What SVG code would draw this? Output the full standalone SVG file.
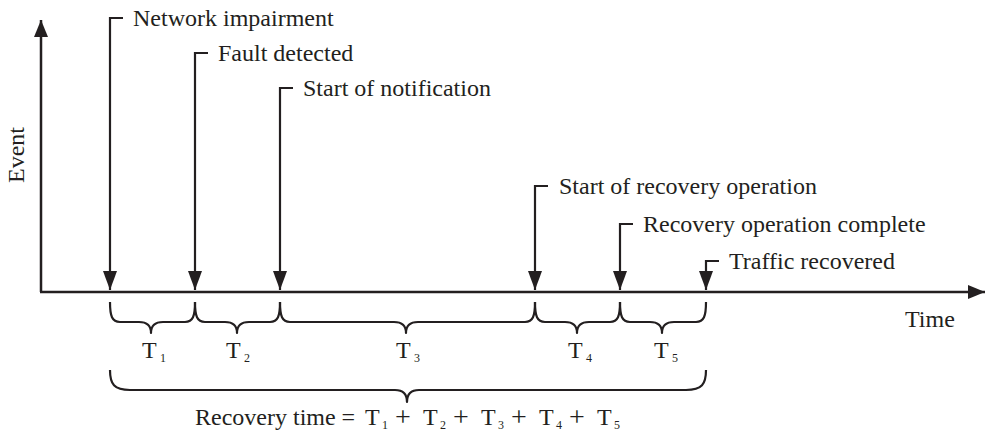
<svg xmlns="http://www.w3.org/2000/svg" width="985" height="436" viewBox="0 0 985 436">
  <style>
    .ln { stroke: #231f20; stroke-width: 2.2; fill: none; }
    .ax { stroke: #231f20; stroke-width: 2.5; fill: none; }
    .br { stroke: #231f20; stroke-width: 2.2; fill: none; stroke-linejoin: round; }
    text { font-family: "Liberation Serif", "Times New Roman", serif; font-size: 24px; fill: #231f20; }
    .sub { font-size: 12px; }
    .plus { font-size: 28px; }
  </style>
  <defs>
    <marker id="arr" markerUnits="userSpaceOnUse" markerWidth="20" markerHeight="14" refX="19" refY="7" orient="auto">
      <path d="M0,0 L19,7 L0,14 Z" fill="#231f20"/>
    </marker>
    <marker id="axarr" markerUnits="userSpaceOnUse" markerWidth="18" markerHeight="14" refX="17" refY="7" orient="auto">
      <path d="M0,0 L17,7 L0,14 Z" fill="#231f20"/>
    </marker>
  </defs>

  <!-- axes -->
  <g id="axes">
    <line class="ax" x1="41" y1="292" x2="41" y2="20" marker-end="url(#axarr)"/>
    <line class="ax" x1="40" y1="292" x2="985" y2="292" marker-end="url(#axarr)"/>
    <text x="24" y="155" text-anchor="middle" transform="rotate(-90 24 155)">Event</text>
    <text x="905" y="327">Time</text>
  </g>

  <!-- event markers -->
  <g id="connectors">
    <path class="ln" d="M123,18 H110 V290" marker-end="url(#arr)"/>
    <path class="ln" d="M208,53 H195 V290" marker-end="url(#arr)"/>
    <path class="ln" d="M293,88 H280 V290" marker-end="url(#arr)"/>
    <path class="ln" d="M548,186 H535 V290" marker-end="url(#arr)"/>
    <path class="ln" d="M633,224 H620 V290" marker-end="url(#arr)"/>
    <path class="ln" d="M719,261 H706 V290" marker-end="url(#arr)"/>
  </g>

  <g id="ev-impairment"><text x="133" y="26">Network impairment</text></g>
  <g id="ev-fault"><text x="218" y="61">Fault detected</text></g>
  <g id="ev-notify"><text x="303" y="96">Start of notification</text></g>
  <g id="ev-recovery-start"><text x="559" y="194">Start of recovery operation</text></g>
  <g id="ev-recovery-done"><text x="643" y="232">Recovery operation complete</text></g>
  <g id="ev-traffic"><text x="729" y="269">Traffic recovered</text></g>

  <!-- interval braces -->
  <g id="braces">
    <path class="br" d="M110,302 C110,316 112,322 120,322 L139,322 C147,322 151,326 151,333 C151,326 155,322 163,322 L185,322 C193,322 195,316 195,302"/>
    <path class="br" d="M195,302 C195,316 197,322 205,322 L225,322 C233,322 237,326 237,333 C237,326 241,322 249,322 L270,322 C278,322 280,316 280,302"/>
    <path class="br" d="M280,302 C280,316 282,322 290,322 L394,322 C402,322 406,326 406,333 C406,326 410,322 418,322 L525,322 C533,322 535,316 535,302"/>
    <path class="br" d="M535,302 C535,316 537,322 545,322 L565,322 C573,322 577,326 577,333 C577,326 581,322 589,322 L610,322 C618,322 620,316 620,302"/>
    <path class="br" d="M620,302 C620,316 622,322 630,322 L650,322 C658,322 662,326 662,333 C662,326 666,322 674,322 L696,322 C704,322 706,316 706,302"/>
    <path class="br" d="M110,370 C110,384 114,390 130,390 L395,390 C403,390 407,394 407,402 C407,394 411,390 419,390 L686,390 C702,390 706,384 706,370"/>
  </g>

  <g id="t1"><text x="142" y="358">T<tspan class="sub" x="160" y="362">1</tspan></text></g>
  <g id="t2"><text x="226" y="358">T<tspan class="sub" x="244" y="362">2</tspan></text></g>
  <g id="t3"><text x="396" y="358">T<tspan class="sub" x="414" y="362">3</tspan></text></g>
  <g id="t4"><text x="568" y="358">T<tspan class="sub" x="586" y="362">4</tspan></text></g>
  <g id="t5"><text x="654" y="358">T<tspan class="sub" x="672" y="362">5</tspan></text></g>

  <g id="total">
    <text x="195" y="425">Recovery time =</text>
    <text x="365" y="425">T<tspan class="sub" x="382" y="429">1</tspan></text>
    <text class="plus" x="403" y="426" text-anchor="middle">+</text>
    <text x="423" y="425">T<tspan class="sub" x="440" y="429">2</tspan></text>
    <text class="plus" x="461" y="426" text-anchor="middle">+</text>
    <text x="481" y="425">T<tspan class="sub" x="498" y="429">3</tspan></text>
    <text class="plus" x="519" y="426" text-anchor="middle">+</text>
    <text x="539" y="425">T<tspan class="sub" x="556" y="429">4</tspan></text>
    <text class="plus" x="577" y="426" text-anchor="middle">+</text>
    <text x="597" y="425">T<tspan class="sub" x="614" y="429">5</tspan></text>
  </g>
</svg>
